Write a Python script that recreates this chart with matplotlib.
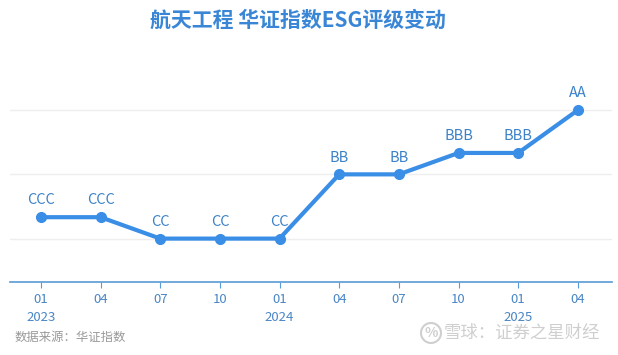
import numpy as np
import matplotlib
matplotlib.use("Agg")
import matplotlib.pyplot as plt
from matplotlib.patches import Ellipse

plt.rcParams['font.family'] = ['Noto Sans CJK SC', 'DejaVu Sans']

# data
months = ["01\n2023", "04", "07", "10", "01\n2024", "04", "07", "10", "01\n2025", "04"]
ratings = ["CCC", "CCC", "CC", "CC", "CC", "BB", "BB", "BBB", "BBB", "AA"]
scale = ["CC", "CCC", "B", "BB", "BBB", "A", "AA"]

blue = "#3a8ee6"
x = np.arange(len(ratings))
y = np.array([scale.index(r) + 1 for r in ratings])

fig = plt.figure(figsize=(6.18, 3.55), dpi=100)
ax = fig.add_axes([0.016, 0.206, 0.974, 0.625])

ax.plot(x, y, color=blue, lw=3, marker="o", ms=7, solid_capstyle="round", zorder=3)
for xi, yi, r in zip(x, y, ratings):
    ax.annotate(r, (xi, yi), xytext=(0, 7), textcoords="offset points",
                ha="center", va="bottom", fontsize=10.5, color="#3b82c8")

ax.set_xlim(-0.52, 9.57)
ax.set_ylim(-1.02, 9.34)
ax.set_yticks([1, 4, 7])
ax.yaxis.grid(True, color="#eeeeee", lw=1)
ax.tick_params(axis="y", length=0, labelleft=False)
ax.set_xticks(x)
ax.set_xticklabels(months, fontsize=9.5, color="#4a86c5", linespacing=1.5)
ax.tick_params(axis="x", length=4, color="#5a9ad6", pad=4)
for s in ["top", "right", "left"]:
    ax.spines[s].set_visible(False)
ax.spines["bottom"].set_color("#5a9ad6")
ax.spines["bottom"].set_linewidth(1.2)
ax.set_axisbelow(True)

fig.text(0.482, 0.943, "航天工程 华证指数ESG评级变动", ha="center", va="center",
         fontsize=15, fontweight="bold", color="#3a86d6")
fig.text(0.024, 0.05, "数据来源：华证指数", ha="left", va="center",
         fontsize=8.9, color="#999999")

# watermark
fig.text(0.971, 0.062, "雪球：证券之星财经", ha="right", va="center",
         fontsize=12.5, color="#cfcfcf")
fig.patches.append(Ellipse((431 / 618, 0.062), 20 / 618, 20 / 355,
                           transform=fig.transFigure, fill=False,
                           ec="#cfcfcf", lw=1.5))
fig.text(431 / 618, 0.062, "%", ha="center", va="center", fontsize=10,
         color="#cfcfcf", fontweight="bold")

fig.savefig("out.png", dpi=100)
